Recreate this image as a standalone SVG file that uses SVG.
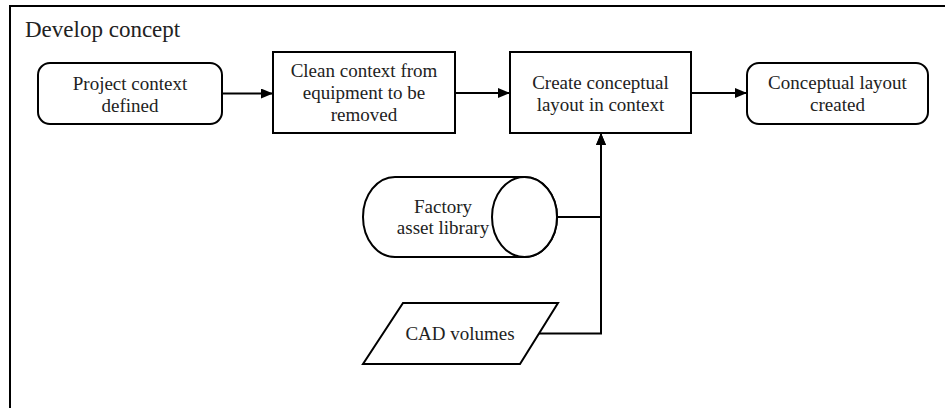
<svg xmlns="http://www.w3.org/2000/svg" width="945" height="408" viewBox="0 0 945 408">
  <style>
    .shape { fill: #ffffff; stroke: #000000; stroke-width: 2; }
    .frame { fill: none; stroke: #000000; stroke-width: 2; }
    .label { font-family: 'Liberation Serif', 'DejaVu Serif', serif; font-size: 19px; fill: #222222; text-anchor: middle; }
    .title { font-family: 'Liberation Serif', 'DejaVu Serif', serif; font-size: 23px; fill: #222222; }
    .edge { fill: none; stroke: #000000; stroke-width: 2; }
  </style>
  <defs>
    <marker id="arrow" viewBox="0 0 12 10" refX="12" refY="5" markerWidth="12" markerHeight="10" markerUnits="userSpaceOnUse" orient="auto">
      <path d="M0,0 L12,5 L0,10 Z" fill="#000000"/>
    </marker>
  </defs>

  <rect width="945" height="408" fill="#ffffff"/>

  <!-- swimlane frame, open at right and bottom -->
  <g id="lane">
    <path class="frame" d="M10,408 L10,6 L945,6"/>
    <text class="title" x="25" y="37">Develop concept</text>
  </g>

  <g id="project-context">
    <rect class="shape" x="38" y="63" width="184" height="61" rx="12" ry="12"/>
    <text class="label" x="130" y="90">Project context</text>
    <text class="label" x="130" y="112">defined</text>
  </g>

  <g id="clean-context">
    <rect class="shape" x="273" y="52" width="182" height="81"/>
    <text class="label" x="364" y="77">Clean context from</text>
    <text class="label" x="364" y="99">equipment to be</text>
    <text class="label" x="364" y="121">removed</text>
  </g>

  <g id="create-layout">
    <rect class="shape" x="510" y="52" width="181" height="81"/>
    <text class="label" x="600.5" y="89">Create conceptual</text>
    <text class="label" x="600.5" y="111">layout in context</text>
  </g>

  <g id="layout-created">
    <rect class="shape" x="747" y="63" width="181" height="61" rx="12" ry="12"/>
    <text class="label" x="837.5" y="89">Conceptual layout</text>
    <text class="label" x="837.5" y="111">created</text>
  </g>

  <g id="asset-library">
    <path class="shape" d="M395,177 L524.5,177 A32.5,40 0 0 1 524.5,257 L395,257 A32,40 0 0 1 395,177 Z"/>
    <ellipse class="shape" cx="524.5" cy="217" rx="32.5" ry="40"/>
    <text class="label" x="443" y="213">Factory</text>
    <text class="label" x="443" y="234">asset library</text>
  </g>

  <g id="cad-volumes">
    <polygon class="shape" points="403,303 558,303 520,364 363,364"/>
    <text class="label" x="460" y="340">CAD volumes</text>
  </g>

  <g id="connectors">
    <path class="edge" d="M222,93.5 L273,93.5" marker-end="url(#arrow)"/>
    <path class="edge" d="M455,93 L510,93" marker-end="url(#arrow)"/>
    <path class="edge" d="M691,93 L747,93" marker-end="url(#arrow)"/>
    <path class="edge" d="M557,217 L601,217 L601,133" marker-end="url(#arrow)"/>
    <path class="edge" d="M539,333.5 L601,333.5 L601,133" marker-end="url(#arrow)"/>
  </g>
</svg>
